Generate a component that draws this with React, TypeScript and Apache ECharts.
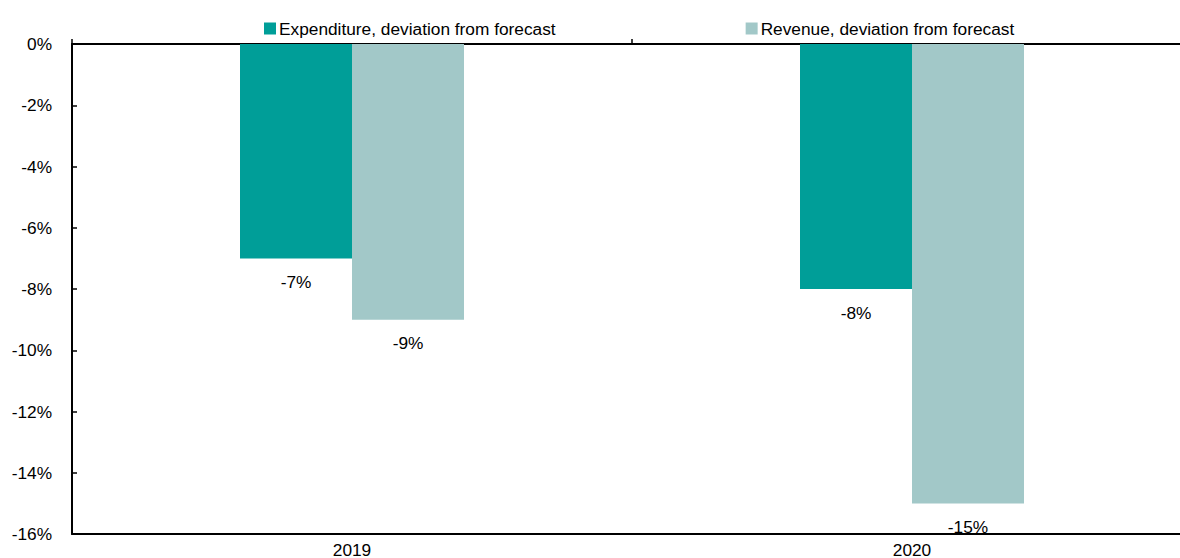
import React, { useEffect, useRef } from "react";
import * as echarts from "echarts";

const categories = ["2019", "2020"];
const expenditure = [-7, -8];
const revenue = [-9, -15];
const yTicks = { min: -16, max: 0, interval: 2 };
const seriesNames = ["Expenditure, deviation from forecast", "Revenue, deviation from forecast"];
const colors = ["#009E98", "#A2C8C8"];

export default function App() {
  const ref = useRef<HTMLDivElement>(null);
  useEffect(() => {
    if (!ref.current) return;
    const chart = echarts.init(ref.current, undefined, { renderer: "svg" });
    const font = "'Liberation Sans', Arial, sans-serif";
    const fs = 17.3;
    const labelCfg = {
      show: true,
      position: "bottom",
      distance: 15,
      color: "#000",
      fontSize: fs,
      fontFamily: font,
      formatter: (p: any) => `${p.value}%`,
    };
    chart.setOption({
      animation: false,
      textStyle: { fontFamily: font },
      legend: {
        left: 264,
        top: 20,
        padding: 0,
        itemGap: 190,
        itemWidth: 12,
        itemHeight: 12,
        icon: "rect",
        textStyle: { fontSize: fs, color: "#000", fontFamily: font, padding: [0, 0, 0, -2] },
        data: seriesNames,
      },
      grid: { left: 72, top: 44, width: 1120, height: 490, containLabel: false, outerBoundsMode: "none" },
      xAxis: [
        {
          type: "category",
          data: categories,
          position: "bottom",
          axisLine: { onZero: false, lineStyle: { color: "#000", width: 2 } },
          axisTick: { show: false },
          axisLabel: { color: "#000", fontSize: fs, fontFamily: font, margin: 7 },
        },
        {
          type: "category",
          data: categories,
          position: "top",
          axisLine: { onZero: false, lineStyle: { color: "#000", width: 2 } },
          axisTick: { show: true, length: 5, lineStyle: { color: "#000", width: 1.5 } },
          axisLabel: { show: false },
        },
      ],
      yAxis: {
        type: "value",
        min: yTicks.min,
        max: yTicks.max,
        interval: yTicks.interval,
        axisLine: { show: true, lineStyle: { color: "#000", width: 2 } },
        axisTick: { show: true, inside: true, length: 5, lineStyle: { color: "#000", width: 1.5 } },
        splitLine: { show: false },
        axisLabel: {
          color: "#000",
          fontSize: fs,
          fontFamily: font,
          margin: 20,
          formatter: (v: number) => `${v}%`,
        },
      },
      series: [
        {
          name: seriesNames[0],
          type: "bar",
          data: expenditure,
          barWidth: 112,
          barGap: "0%",
          itemStyle: { color: colors[0] },
          label: labelCfg,
        },
        {
          name: seriesNames[1],
          type: "bar",
          data: revenue,
          barWidth: 112,
          barGap: "0%",
          itemStyle: { color: colors[1] },
          label: labelCfg,
        },
      ],
    });
    return () => chart.dispose();
  }, []);
  return <div ref={ref} style={{ width: 1180, height: 558, position: "absolute", left: 0, top: 0 }} />;
}
